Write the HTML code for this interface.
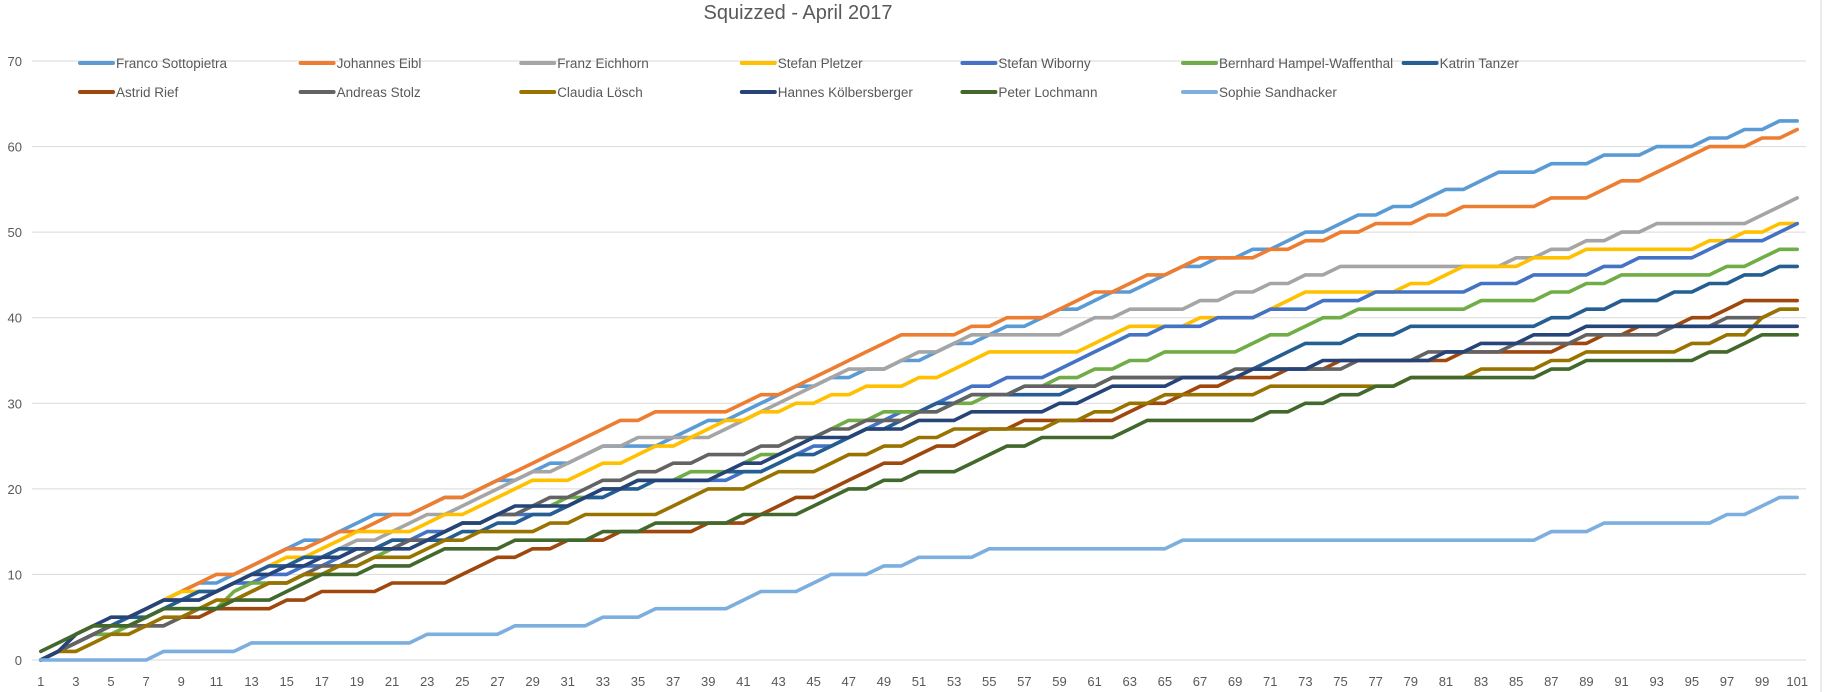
<!DOCTYPE html>
<html><head><meta charset="utf-8"><style>
html,body{margin:0;padding:0;background:#fff;}
svg{display:block;font-family:"Liberation Sans",sans-serif;}
</style></head><body>
<svg id="c" width="1832" height="692" xmlns="http://www.w3.org/2000/svg">
<rect width="1832" height="692" fill="#fff"/>
<line x1="1821" y1="0" x2="1821" y2="692" stroke="#d9d9d9" stroke-width="1"/>
<text x="798" y="19" font-size="20" fill="#595959" text-anchor="middle">Squizzed - April 2017</text>
<g id="grid"></g><g id="xl"></g><g id="series"></g><g id="leg"></g>
</svg>
<script>
var NS="http://www.w3.org/2000/svg";
function el(t,a,p,txt){var e=document.createElementNS(NS,t);for(var k in a)e.setAttribute(k,a[k]);if(txt!=null)e.textContent=txt;p.appendChild(e);return e;}
var L=32,R=1806,Y0=660,YS=(660-61)/70,STEP=(R-L)/101;
function X(i){return L+STEP*(i-0.5);}
function Y(v){return Y0-v*YS;}
var g=document.getElementById('grid');
for(var v=0;v<=70;v+=10){el('line',{x1:L,x2:R,y1:Y(v),y2:Y(v),stroke:'#d9d9d9','stroke-width':1},g);
el('text',{x:22,y:Y(v)+5,'font-size':13,fill:'#595959','text-anchor':'end'},g,String(v));}
var xl=document.getElementById('xl');
for(var i=1;i<=101;i+=2)el('text',{x:X(i),y:686,'font-size':13,fill:'#595959','text-anchor':'middle'},xl,String(i));
var S=[
["Franco Sottopietra","#5B9BD5",[1,0,7,6,20,17,22,17,26,20,28,21,33,25,36,25,43,31,47,33,52,36,61,42,64,44,66,46,71,48,75,51,79,53,84,57,86,57,87,58,89,58,91,59,95,60,101,63]],
["Johannes Eibl","#ED7D31",[1,0,9,8,14,12,26,20,33,27,35,28,36,29,40,29,44,32,50,38,53,38,56,40,58,40,60,42,62,43,66,46,67,47,70,47,72,48,76,50,77,51,79,51,81,52,83,53,86,53,87,54,89,54,93,57,96,60,98,60,101,62]],
["Franz Eichhorn","#A5A5A5",[1,0,8,6,17,12,25,18,27,20,35,26,39,26,44,31,47,34,49,34,53,37,55,38,59,38,63,41,66,41,68,42,70,43,73,45,76,46,84,46,86,47,88,48,90,49,93,51,98,51,101,54]],
["Stefan Pletzer","#FFC000",[1,0,7,6,9,8,11,8,19,15,22,15,26,18,29,21,31,21,35,24,37,25,39,27,41,28,45,30,47,31,49,32,52,33,54,35,56,36,60,36,63,39,66,39,68,40,70,40,72,42,74,43,78,43,81,45,83,46,88,47,90,48,95,48,97,49,99,50,101,51]],
["Stefan Wiborny","#4472C4",[1,0,7,6,18,12,28,17,30,17,35,21,40,21,43,23,48,27,53,31,56,33,58,33,62,37,64,38,66,39,69,40,72,41,76,42,78,43,82,43,84,44,87,45,89,45,91,46,93,47,95,47,97,49,99,49,101,51]],
["Bernhard Hampel-Waffenthal","#70AD47",[1,0,8,6,11,6,13,9,15,9,20,12,25,16,30,18,36,21,40,22,45,26,49,29,52,29,55,31,58,32,62,34,66,36,69,36,73,39,76,41,82,41,84,42,86,42,88,43,90,44,92,45,96,45,98,46,100,48,101,48]],
["Katrin Tanzer","#255E91",[1,0,5,4,16,12,26,15,31,18,33,19,37,21,42,22,46,25,51,29,54,31,58,31,61,32,63,33,69,33,72,36,74,37,77,38,80,39,86,39,88,40,90,41,92,42,95,43,97,44,99,45,101,46]],
["Astrid Rief","#9E480E",[1,0,4,4,8,4,10,5,12,6,14,6,16,7,18,8,20,8,22,9,24,9,27,12,28,12,31,14,41,16,42,17,47,21,51,24,53,25,57,28,62,28,67,32,70,33,76,35,87,36,91,38,93,39,96,40,98,42,101,42]],
["Andreas Stolz","#636363",[1,0,5,4,8,4,13,8,19,12,29,18,32,20,34,21,40,24,43,25,46,27,52,29,54,31,60,32,63,33,66,33,71,34,74,34,77,35,96,39,98,40,101,41]],
["Claudia Lösch","#997300",[1,0,10,6,13,8,18,11,22,12,26,15,29,15,33,17,36,17,39,20,41,20,43,22,45,22,47,24,50,25,53,27,57,27,60,28,63,30,66,31,70,31,72,32,78,32,80,33,85,34,88,35,90,36,94,36,96,37,98,38,100,41,101,41]],
["Hannes Kölbersberger","#264478",[1,0,5,5,6,5,8,7,10,7,13,10,14,10,16,11,20,13,22,13,28,18,31,18,35,21,39,21,44,25,46,26,50,27,52,28,55,29,58,29,61,31,63,32,68,33,72,34,76,35,80,35,84,37,88,38,90,39,101,39]],
["Peter Lochmann","#43682B",[1,1,4,4,6,4,8,6,11,6,13,7,14,7,17,10,19,10,20,11,22,11,24,13,27,13,29,14,32,14,33,15,35,15,36,16,40,16,41,17,44,17,46,19,48,20,51,22,53,22,55,24,57,25,59,26,62,26,64,28,70,28,72,29,74,30,76,31,78,32,80,33,86,33,88,34,90,35,95,35,98,37,100,38,101,38]],
["Sophie Sandhacker","#7CAFDD",[1,0,7,0,8,1,12,1,13,2,22,2,23,3,27,3,28,4,32,4,33,5,35,5,36,6,40,6,42,8,44,8,46,10,48,10,51,12,54,12,55,13,65,13,66,14,86,14,87,15,89,15,90,16,96,16,97,17,98,17,100,19,101,19]]
];
var sg=document.getElementById('series'),lg=document.getElementById('leg');
S.forEach(function(s,idx){
  var k=s[2],vals=[];
  for(var j=0;j<k.length-2;j+=2){var a=k[j],av=k[j+1],b=k[j+2],bv=k[j+3];
    for(var d=a;d<b;d++){vals[d]=Math.round(av+(bv-av)*(d-a)/(b-a));}}
  vals[k[k.length-2]]=k[k.length-1];
  var pts=[];for(var d=1;d<=101;d++)pts.push(X(d).toFixed(1)+","+Y(vals[d]).toFixed(1));
  el('polyline',{points:pts.join(' '),fill:'none',stroke:s[1],'stroke-width':3.6,'stroke-linejoin':'round','stroke-linecap':'round'},sg);
  var col=idx%7,row=Math.floor(idx/7);
  var lx=80+col*220.6,ly=row?92:63;
  el('line',{x1:lx,x2:lx+33,y1:ly,y2:ly,stroke:s[1],'stroke-width':4,'stroke-linecap':'round'},lg);
  el('text',{x:lx+36,y:ly+5,'font-size':13.5,fill:'#595959'},lg,s[0]);
});
</script>
</body></html>
